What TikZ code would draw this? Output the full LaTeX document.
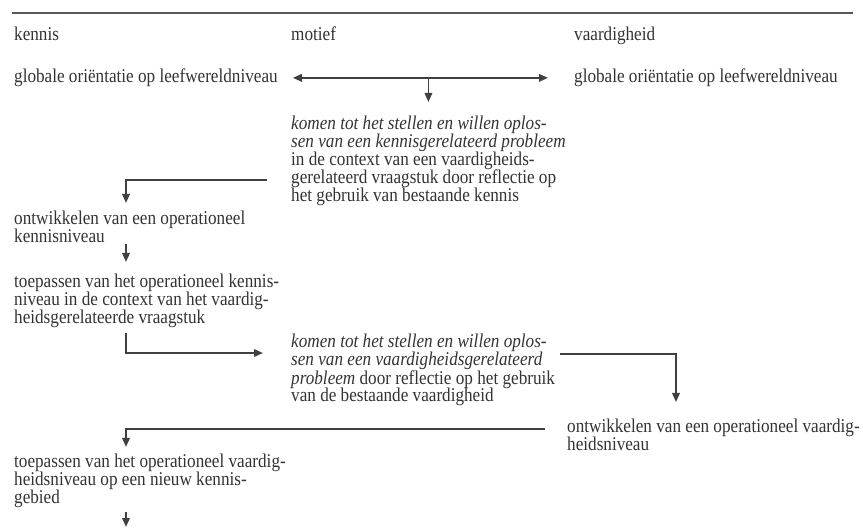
\documentclass[tikz,border=0pt]{standalone}
\usepackage{fontspec}
\setmainfont[FakeStretch=0.88]{Liberation Serif}
\usepackage{tikz}
\usetikzlibrary{arrows.meta,positioning,calc}

\begin{document}
\begin{tikzpicture}[x=1pt, y=-1pt,
    >={Triangle[length=9pt,width=7.5pt]},
    tekst/.style={anchor=north west, inner sep=0pt, align=left, text=black!80,
                  font=\fontsize{19.5}{17.8}\selectfont},
    pijl/.style={draw=black!75, line width=1.8pt, ->},
  ]
      \useasboundingbox (0,0) rectangle (863,529);
      \draw[black!65, line width=1.8pt](12,13) to (853,13);

      % kolomkoppen
      \node[tekst] (kennis) at (14,26.7) {kennis};
      \node[tekst] (motief) at (291,26.7) {motief};
      \node[tekst] (vaardigheid) at (574,26.7) {vaardigheid};

      \node[tekst] (orientK) at (14,68.7) {globale oriëntatie op leefwereldniveau};
      \node[tekst] (orientV) at (574,68.7) {globale oriëntatie op leefwereldniveau};
          \draw[pijl, <->, shorten <=15pt, shorten >=26pt] (orientK) -- (orientV);

      \node[tekst] (motiefK) at (291,115.7) {\textit{komen tot het stellen en willen oplos-}\\
          \textit{sen van een kennisgerelateerd probleem}\\
          in de context van een vaardigheids-\\
          gerelateerd vraagstuk door reflectie op\\
          het gebruik van bestaande kennis};
          \draw[pijl] (motiefK.north |- orientK.east) -- ([yshift=13.7pt]motiefK.north);

      \node[tekst] (ontwK) at (14,210.7) {ontwikkelen van een operationeel\\
          kennisniveau};
          \coordinate (hoekK) at (126,180);
          \draw[pijl] ([xshift=-24pt]motiefK.west |- hoekK) -- (hoekK)
              -- ([yshift=7.7pt]ontwK.north west -| hoekK);

      \node[tekst] (toepK) at (14,273.7) {toepassen van het operationeel kennis-\\
          niveau in de context van het vaardig-\\
          heidsgerelateerde vraagstuk};
          \draw[pijl] ([yshift=-1pt]ontwK.south -| hoekK) -- ([yshift=11.7pt]toepK.north west -| hoekK);

      \node[tekst] (motiefV) at (291,333.7) {\textit{komen tot het stellen en willen oplos-}\\
          \textit{sen van een vaardigheidsgerelateerd}\\
          \textit{probleem} door reflectie op het gebruik\\
          van de bestaande vaardigheid};
          \draw[pijl] ([yshift=-6pt]toepK.south -| hoekK) |- ([xshift=-28pt,yshift=-19.3pt]motiefV.north west);

      \node[tekst] (ontwV) at (567,418.7) {ontwikkelen van een operationeel vaardig-\\
          heidsniveau};
          \coordinate (hoekV) at (676,354);
          \draw[pijl] ([xshift=5pt]motiefV.east |- hoekV) -- (hoekV)
              -- ([yshift=16.7pt]ontwV.north west -| hoekV);

      \node[tekst] (toepV) at (14,453.7) {toepassen van het operationeel vaardig-\\
          heidsniveau op een nieuw kennis-\\
          gebied};
          \coordinate (hoekT) at (126,429);
          \draw[pijl] ([xshift=-22pt]ontwV.west |- hoekT) -- (hoekT)
              -- ([yshift=6.7pt]toepV.north west -| hoekT);

          \coordinate (einde) at (126,527);
          \draw[pijl] ([yshift=-4.5pt]toepV.south -| hoekT) -- (einde);
\end{tikzpicture}
\end{document}
